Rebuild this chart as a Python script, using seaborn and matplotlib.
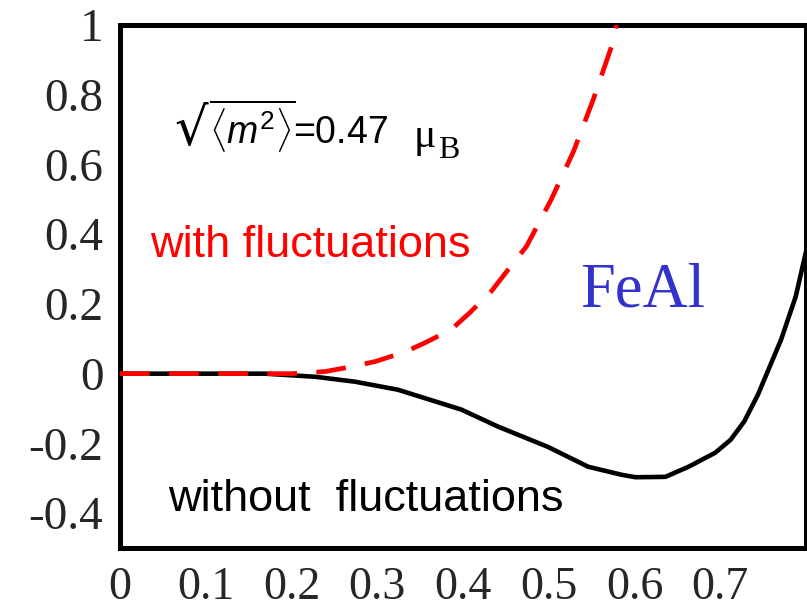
import matplotlib
matplotlib.use("Agg")
import matplotlib.pyplot as plt
import seaborn as sns
import pandas as pd

# ---- data ----
x_without = [0.0, 0.10, 0.169, 0.228, 0.274, 0.324, 0.398, 0.441, 0.499, 0.546,
             0.585, 0.601, 0.636, 0.663, 0.694, 0.712, 0.728, 0.744, 0.771, 0.788, 0.80]
y_without = [0.0, 0.0, 0.0, -0.009, -0.023, -0.046, -0.103, -0.152, -0.21, -0.267,
             -0.29, -0.297, -0.296, -0.267, -0.227, -0.19, -0.137, -0.06, 0.098, 0.221, 0.35]

x_with = [0.0, 0.10, 0.20, 0.239, 0.27, 0.298, 0.333, 0.356, 0.386, 0.408,
          0.433, 0.45, 0.474, 0.503, 0.529, 0.552, 0.573, 0.579]
y_with = [0.0, 0.0, 0.0, 0.006, 0.02, 0.035, 0.063, 0.089, 0.126, 0.175,
          0.236, 0.29, 0.365, 0.5, 0.638, 0.787, 0.937, 1.0]

x_ticks = [0, 0.1, 0.2, 0.3, 0.4, 0.5, 0.6, 0.7]
x_tick_labels = ["0", "0.1", "0.2", "0.3", "0.4", "0.5", "0.6", "0.7"]
y_ticks = [-0.4, -0.2, 0, 0.2, 0.4, 0.6, 0.8, 1.0]
y_tick_labels = ["-0.4", "-0.2", "0", "0.2", "0.4", "0.6", "0.8", "1"]

df_without = pd.DataFrame({"x": x_without, "y": y_without})
df_with = pd.DataFrame({"x": x_with, "y": y_with})

sns.set_style("white")
plt.rcParams["font.family"] = ["Liberation Sans", "DejaVu Sans"]
plt.rcParams["mathtext.fontset"] = "custom"
plt.rcParams["mathtext.rm"] = "Liberation Sans"
plt.rcParams["mathtext.it"] = "Liberation Sans:italic"
plt.rcParams["mathtext.bf"] = "Liberation Sans:bold"

fig = plt.figure(figsize=(8.07, 6.14), dpi=100)
ax = fig.add_axes([120 / 807, 1 - 548 / 614, 686 / 807, (548 - 25) / 614])

sns.lineplot(data=df_without, x="x", y="y", ax=ax, color="black", lw=3.3,
             sort=False, estimator=None, zorder=2)
sns.lineplot(data=df_with, x="x", y="y", ax=ax, color="#ff0000", lw=3.4,
             sort=False, estimator=None, zorder=3, linestyle=(0, (6.3, 4.1)))

ax.set_xlim(0, 0.8)
ax.set_ylim(-0.5, 1.0)
ax.set_xticks(x_ticks)
ax.set_xticklabels(x_tick_labels, fontfamily="Liberation Serif", fontsize=33)
ax.set_yticks(y_ticks)
ax.set_yticklabels(y_tick_labels, fontfamily="Liberation Serif", fontsize=34)
ax.tick_params(axis="both", length=0)
ax.tick_params(axis="x", pad=13)
ax.tick_params(axis="y", pad=12)
ax.set_xlabel("")
ax.set_ylabel("")
for s in ax.spines.values():
    s.set_visible(True)
    s.set_color("black")
    s.set_linewidth(3.6)

# annotations
ax.text(0.063, 0.655, "\u221a", fontsize=38, color="black",
        va="baseline", ha="left", family=["DejaVu Sans"])
ax.text(0.104, 0.658, r"$\overline{\langle m^{2}\rangle}$=0.47", fontsize=27,
        color="black", va="baseline", ha="left")
ax.text(0.342, 0.649, "\u03bc", fontsize=30, color="black",
        va="baseline", ha="left", family="Liberation Serif")
ax.text(0.371, 0.618, "B", fontsize=23, color="black",
        va="baseline", ha="left", family="Liberation Serif")
ax.text(0.035, 0.368, "with fluctuations", fontsize=32.5, color="#ff0000",
        va="center", ha="left")
ax.text(0.056, -0.362, "without  fluctuations", fontsize=32.5, color="black",
        va="center", ha="left")
ax.text(0.537, 0.236, "FeAl", fontsize=45, color="#3333cc",
        va="center", ha="left", family="Liberation Serif")

fig.savefig("out.png", dpi=100)
